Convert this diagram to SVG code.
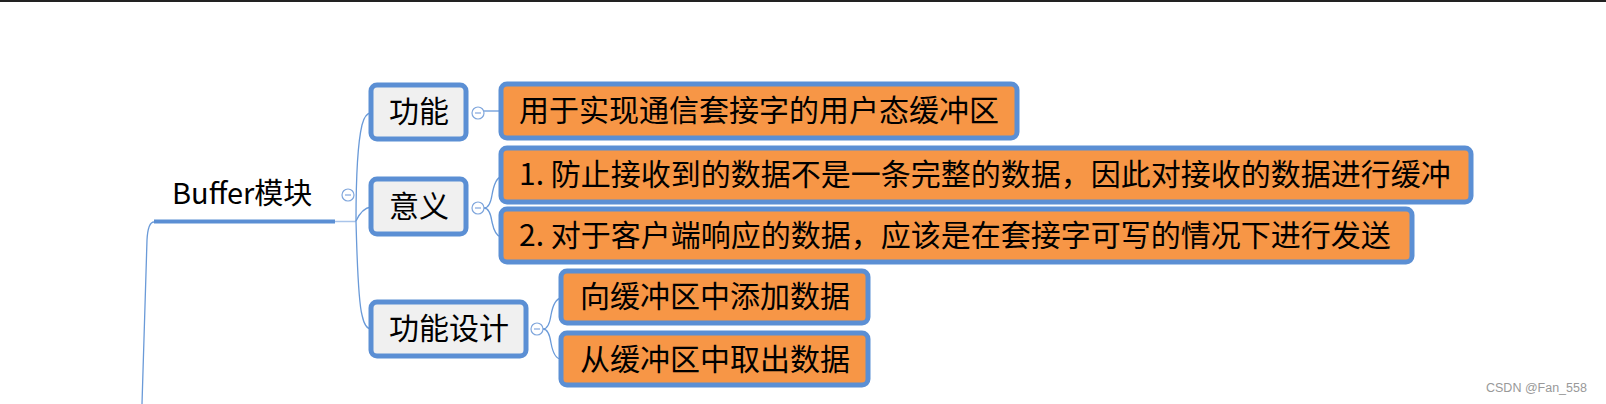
<svg xmlns="http://www.w3.org/2000/svg" width="1606" height="404" viewBox="0 0 1606 404">
<style>
text{font-family:"Microsoft YaHei","Noto Sans CJK SC","Noto Sans",sans-serif;font-size:30px;fill:#000}
.g{fill:#f0f0f0;stroke:#5b8fd4;stroke-width:5}
.o{fill:#f79646;stroke:#5b8fd4;stroke-width:5}
.c{fill:none;stroke:#6a9ad8;stroke-width:1.3}
.k{fill:#fff;stroke:#7fa6dc;stroke-width:1.2}
.m{stroke:#9bb9e4;stroke-width:1.5}
</style>
<rect width="1606" height="404" fill="#fff"/>
<line x1="0" y1="1" x2="1606" y2="1" stroke="#222" stroke-width="2"/>
<g id="connectors">
<path class="c" d="M154 222 Q148 222 147 240 L142 404"/>
<line x1="154" y1="221.5" x2="335" y2="221.5" stroke="#5b8fd4" stroke-width="4"/>
<line x1="335" y1="221.5" x2="356" y2="221.5" stroke="#a9c4ea" stroke-width="1.5"/>
<path class="c" d="M356 221 Q356 150 362 125 Q365 113 371 113"/>
<path class="c" d="M356 221 Q362 208 371 207"/>
<path class="c" d="M356 221 Q358 300 362 315 Q365 329 371 329"/>
<path class="c" d="M484 111 L501 111"/>
<path class="c" d="M484 208 Q490 208 492 195 Q495 178 501 177"/>
<path class="c" d="M484 208 Q490 208 492 222 Q495 236 501 237"/>
<path class="c" d="M543 329 Q549 329 551 315 Q554 299 561 298"/>
<path class="c" d="M543 329 Q549 329 551 343 Q554 359 561 359"/>
<circle class="k" cx="348" cy="195" r="6"/><line class="m" x1="345" y1="195" x2="351" y2="195"/>
<circle class="k" cx="478" cy="113" r="6"/><line class="m" x1="475" y1="113" x2="481" y2="113"/>
<circle class="k" cx="478" cy="208" r="6"/><line class="m" x1="475" y1="208" x2="481" y2="208"/>
<circle class="k" cx="537" cy="329" r="6"/><line class="m" x1="534" y1="329" x2="540" y2="329"/>
</g>
<g id="root"><text x="172" y="204" style="font-size:29px">Buffer模块</text></g>
<g id="n1"><rect class="g" x="371" y="85" width="95" height="54" rx="6"/><text x="389" y="122">功能</text></g>
<g id="n2"><rect class="g" x="371" y="179" width="95" height="55" rx="6"/><text x="389" y="217">意义</text></g>
<g id="n3"><rect class="g" x="371" y="302" width="155" height="54" rx="6"/><text x="389" y="339">功能设计</text></g>
<g id="n1a"><rect class="o" x="501" y="84" width="516" height="54" rx="6"/><text x="519" y="121">用于实现通信套接字的用户态缓冲区</text></g>
<g id="n2a"><rect class="o" x="501" y="148" width="970" height="54" rx="6"/><text x="519" y="185">1. 防止接收到的数据不是一条完整的数据，因此对接收的数据进行缓冲</text></g>
<g id="n2b"><rect class="o" x="501" y="209" width="911" height="53" rx="6"/><text x="519" y="246">2. 对于客户端响应的数据，应该是在套接字可写的情况下进行发送</text></g>
<g id="n3a"><rect class="o" x="561" y="271" width="307" height="52" rx="6"/><text x="580" y="307">向缓冲区中添加数据</text></g>
<g id="n3b"><rect class="o" x="561" y="333" width="307" height="52" rx="6"/><text x="580" y="370">从缓冲区中取出数据</text></g>
<text x="1486" y="392" style="font-size:12.5px;fill:#999;font-family:'Liberation Sans',sans-serif">CSDN @Fan_558</text>
</svg>
